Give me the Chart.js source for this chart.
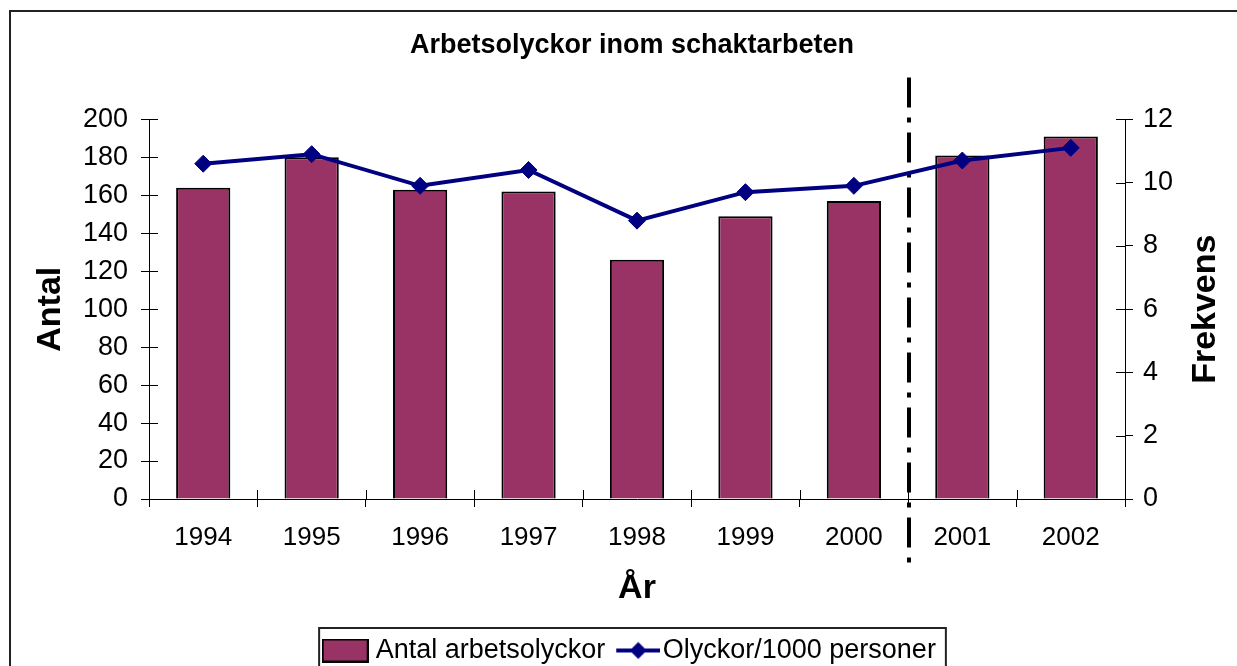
<!DOCTYPE html>
<html><head><meta charset="utf-8">
<script src="https://cdn.jsdelivr.net/npm/chart.js@4/dist/chart.umd.min.js"></script>
<style>html,body{margin:0;padding:0;background:#fff;}#wrap{width:1237px;height:666px;}</style>
</head><body><div id="wrap"><canvas id="c" width="1237" height="666"></canvas></div>
<script>
const years = ['1994','1995','1996','1997','1998','1999','2000','2001','2002'];
const antal = [164, 180, 163, 162, 126, 149, 157, 181, 191];
const frekvens = [10.6, 10.9, 9.9, 10.4, 8.8, 9.7, 9.9, 10.7, 11.1];
const antalTicks = [0, 20, 40, 60, 80, 100, 120, 140, 160, 180, 200];
const frekvensTicks = [0, 2, 4, 6, 8, 10, 12];
const seriesNames = ['Antal arbetsolyckor', 'Olyckor/1000 personer'];
const chartTitle = 'Arbetsolyckor inom schaktarbeten';
const xTitle = 'År';
const yTitle = 'Antal';
const y1Title = 'Frekvens';
const dividerAfter = '2000';

const FONT = 'Liberation Sans, Arial, sans-serif';
const PLUM = '#993366';
const NAVY = '#000080';
Chart.defaults.font.family = FONT;
Chart.defaults.color = '#000';

// legend swatches
function barSwatch() {
  const c = document.createElement('canvas'); c.width = 47; c.height = 24;
  const g = c.getContext('2d');
  g.fillStyle = PLUM; g.fillRect(1, 1, 45, 22);
  g.strokeStyle = '#000'; g.lineWidth = 2; g.strokeRect(1, 1, 45, 22);
  return c;
}
function lineSwatch() {
  const c = document.createElement('canvas'); c.width = 56; c.height = 20;
  const g = c.getContext('2d');
  g.strokeStyle = NAVY; g.lineWidth = 4;
  g.beginPath(); g.moveTo(12, 10); g.lineTo(56, 10); g.stroke();
  g.fillStyle = NAVY; g.beginPath();
  g.moveTo(34, 1.5); g.lineTo(42.5, 10); g.lineTo(34, 18.5); g.lineTo(25.5, 10); g.closePath(); g.fill();
  return c;
}
const swatches = [barSwatch(), lineSwatch()];

const decor = {
  id: 'decor',
  beforeDraw(chart) {
    const ctx = chart.ctx;
    ctx.save();
    ctx.fillStyle = '#fff'; ctx.fillRect(0, 0, chart.width, chart.height);
    ctx.strokeStyle = '#222'; ctx.lineWidth = 2;
    ctx.strokeRect(10, 11, 1400, 900);
    ctx.restore();
  },
  beforeDatasetsDraw(chart) {
    const ctx = chart.ctx, x = chart.scales.x, a = chart.chartArea;
    const i = years.indexOf(dividerAfter);
    const px = Math.round(x.getPixelForValue(i + 0.5)) + 1;
    ctx.save();
    ctx.strokeStyle = '#000'; ctx.lineWidth = 4;
    ctx.setLineDash([30, 10, 5, 10]);
    ctx.beginPath(); ctx.moveTo(px, a.top - 42); ctx.lineTo(px, a.bottom + 73); ctx.stroke();
    ctx.restore();
  },
  afterDraw(chart) {
    const ctx = chart.ctx, a = chart.chartArea;
    ctx.save();
    ctx.strokeStyle = '#000'; ctx.lineWidth = 1;
    // inward tick marks
    const x = chart.scales.x;
    ctx.beginPath();
    for (let k = 0; k <= years.length; k++) {
      const px = Math.round(x.getPixelForDecimal(k / years.length)) + 0.5;
      ctx.moveTo(px, a.bottom); ctx.lineTo(px, a.bottom - 9);
    }
    const y = chart.scales.y;
    y.ticks.forEach(t => { const py = Math.round(y.getPixelForValue(t.value)) + 0.5; ctx.moveTo(a.left, py); ctx.lineTo(a.left + 9, py); });
    const y1 = chart.scales.y1;
    y1.ticks.forEach(t => { const py = Math.round(y1.getPixelForValue(t.value)) + 0.5; ctx.moveTo(a.right, py); ctx.lineTo(a.right - 9, py); });
    ctx.stroke();
    // right axis title (reads bottom-to-top)
    ctx.fillStyle = '#000';
    ctx.font = 'bold 34px ' + FONT;
    ctx.textAlign = 'center'; ctx.textBaseline = 'middle';
    ctx.translate(y1.right - 31, (a.top + a.bottom) / 2);
    ctx.rotate(-Math.PI / 2);
    ctx.fillText(y1Title, 0, 0);
    ctx.restore();
    // legend frame
    const lg = chart.legend;
    if (lg && lg.legendHitBoxes && lg.legendHitBoxes.length) {
      const hb = lg.legendHitBoxes;
      const l = hb[0].left - 9, r = hb[hb.length - 1].left + hb[hb.length - 1].width + 10;
      ctx.save(); ctx.strokeStyle = '#222'; ctx.lineWidth = 2;
      ctx.strokeRect(l, lg.top + 1, r - l, 200);
      ctx.restore();
    }
  }
};

new Chart(document.getElementById('c'), {
  data: {
    labels: years,
    datasets: [
      { type: 'bar', label: seriesNames[0], data: antal, yAxisID: 'y', order: 2,
        backgroundColor: PLUM, borderColor: '#000', borderWidth: 2,
        barPercentage: 0.5, categoryPercentage: 1.0 },
      { type: 'line', label: seriesNames[1], data: frekvens, yAxisID: 'y1', order: 1,
        borderColor: NAVY, backgroundColor: NAVY, borderWidth: 4,
        pointStyle: 'rectRot', pointRadius: 8.5, pointBorderWidth: 1, pointBorderColor: NAVY, tension: 0 }
    ]
  },
  options: {
    responsive: false, animation: false, devicePixelRatio: 1,
    layout: { padding: { left: 27, right: 0, top: 0, bottom: -8 } },
    plugins: {
      tooltip: { enabled: false },
      title: { display: true, text: chartTitle, font: { size: 27, weight: 'bold' }, color: '#000',
               padding: { top: 29, bottom: 58 } },
      legend: {
        position: 'bottom',
        labels: {
          font: { size: 27 }, color: '#000', padding: 10,
          usePointStyle: true, pointStyleWidth: 34, boxHeight: 27,
          generateLabels(chart) {
            return chart.data.datasets.map((d, i) => ({
              text: d.label, pointStyle: swatches[i], datasetIndex: i,
              fillStyle: 'transparent', strokeStyle: 'transparent', lineWidth: 0, hidden: false
            }));
          }
        }
      }
    },
    scales: {
      x: {
        type: 'category', offset: true,
        grid: { offset: true, drawOnChartArea: false, drawTicks: true, tickLength: 8, color: '#000' },
        border: { color: '#000', width: 1 },
        ticks: { font: { size: 26 }, color: '#000', padding: 15, maxRotation: 0, autoSkip: false },
        title: { display: true, text: xTitle, font: { size: 34, weight: 'bold' }, color: '#000', padding: { top: 0, bottom: 18 } },
        afterFit(s) { s.height = 128; }
      },
      y: {
        position: 'left', min: antalTicks[0], max: antalTicks[antalTicks.length - 1],
        afterBuildTicks(s) { s.ticks = antalTicks.map(v => ({ value: v })); },
        grid: { drawOnChartArea: false, drawTicks: true, tickLength: 8, color: '#000' },
        border: { color: '#000', width: 1 },
        ticks: { font: { size: 27 }, color: '#000', padding: 13 },
        title: { display: true, text: yTitle, font: { size: 34, weight: 'bold' }, color: '#000', padding: { top: 3, bottom: 0 } },
        afterFit(s) { s.width = 122; }
      },
      y1: {
        position: 'right', min: frekvensTicks[0], max: frekvensTicks[frekvensTicks.length - 1],
        afterBuildTicks(s) { s.ticks = frekvensTicks.map(v => ({ value: v })); },
        grid: { drawOnChartArea: false, drawTicks: true, tickLength: 8, color: '#000' },
        border: { color: '#000', width: 1 },
        ticks: { font: { size: 27 }, color: '#000', padding: 10 },
        title: { display: false },
        afterFit(s) { s.width = 112; }
      }
    }
  },
  plugins: [decor]
});
</script>
</body></html>
